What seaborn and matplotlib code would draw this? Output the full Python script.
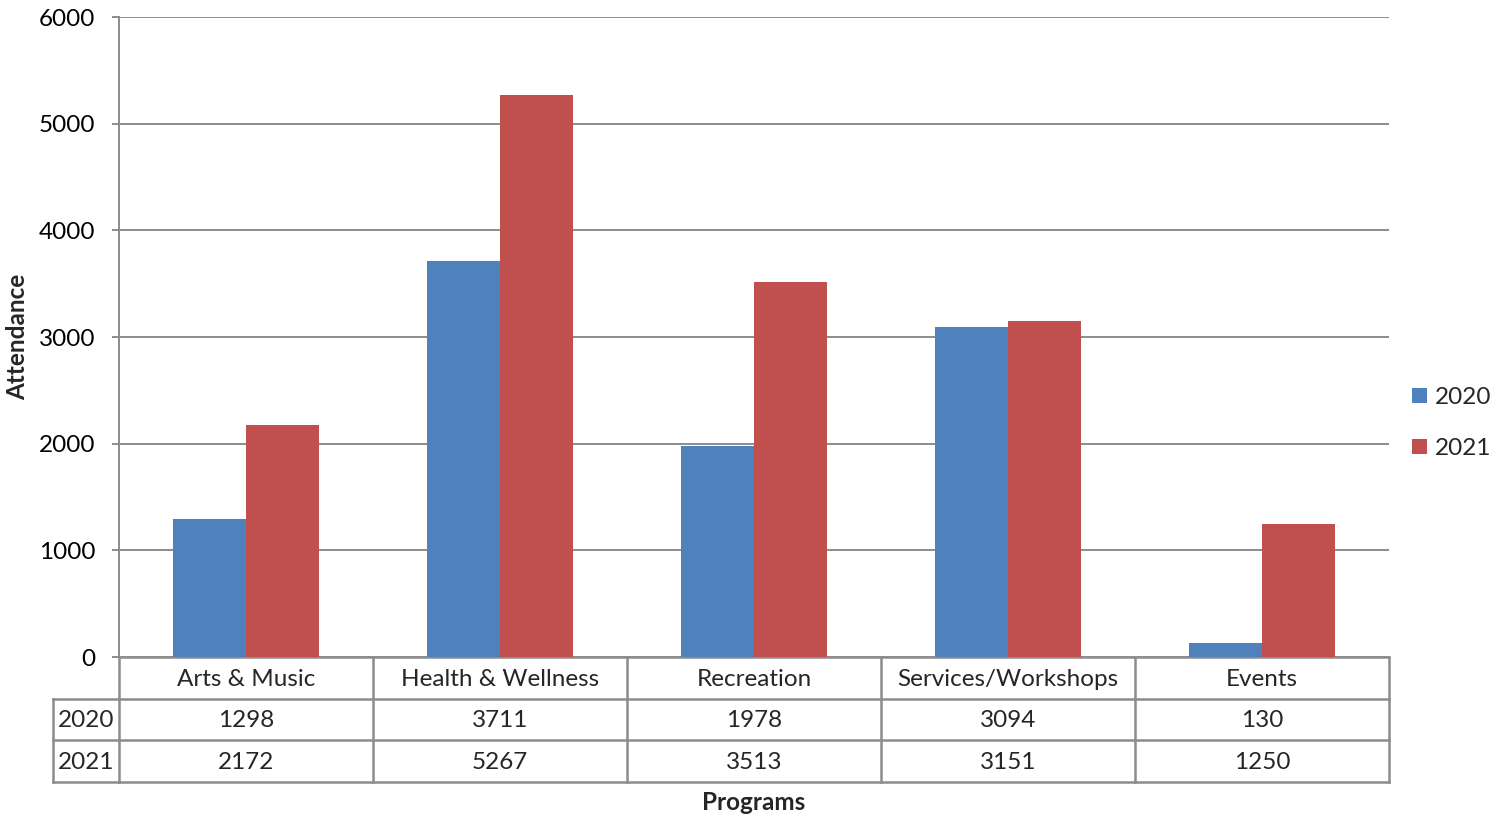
import matplotlib
matplotlib.use("Agg")
import matplotlib.pyplot as plt
from matplotlib.patches import Patch
from matplotlib.transforms import blended_transform_factory
import seaborn as sns
import pandas as pd

# Attendance by program and year
programs = ["Arts & Music", "Health & Wellness", "Recreation", "Services/Workshops", "Events"]
years = ["2020", "2021"]
att_2020 = [1298, 3711, 1978, 3094, 130]
att_2021 = [2172, 5267, 3513, 3151, 1250]
y_ticks = [0, 1000, 2000, 3000, 4000, 5000, 6000]

colors = ["#4F81BD", "#C0504D"]
grid_col = "#8C8C8C"
font = "Lato"
fs = 17.5

df = pd.DataFrame({
    "Program": programs * 2,
    "Year": [years[0]] * len(programs) + [years[1]] * len(programs),
    "Attendance": att_2020 + att_2021,
})

sns.set_theme(style="white")
plt.rcParams["font.family"] = [font, "DejaVu Sans"]

W, H = 1504, 819
fig = plt.figure(figsize=(W / 100, H / 100), dpi=100)

# Plot area in pixel terms: left 119, right 1389, top 17, bottom 657
ax = fig.add_axes([119 / W, (H - 657) / H, 1270 / W, 640 / H])
sns.barplot(data=df, x="Program", y="Attendance", hue="Year", order=programs,
            hue_order=years, palette=colors, width=0.572, gap=0, saturation=1,
            legend=False, ax=ax, edgecolor="none")
ax.set_xlim(-0.5, len(programs) - 0.5)
ax.set_ylim(y_ticks[0], y_ticks[-1])
ax.set_yticks(y_ticks)
ax.set_yticklabels([str(t) for t in y_ticks], fontsize=fs, color="black")
ax.set_xticks([])
ax.set_xlabel("")
ax.set_ylabel("")
ax.yaxis.grid(True, color=grid_col, linewidth=1.4)
ax.set_axisbelow(True)
ax.tick_params(axis="y", length=5, width=1.4, color=grid_col, pad=12, left=True)
for s in ["top", "right", "bottom"]:
    ax.spines[s].set_visible(False)
ax.spines["left"].set_color(grid_col)
ax.spines["left"].set_linewidth(1.4)

# Overlay in figure pixel coordinates for the data table and labels
ov = fig.add_axes([0, 0, 1, 1], zorder=-1)
ov.set_xlim(0, W)
ov.set_ylim(H, 0)
ov.axis("off")
ov.patch.set_alpha(0)
tr = blended_transform_factory(ax.transData, ov.transData)

row_top, row_h = 657, 41.5
row_edges = [row_top + i * row_h for i in range(4)]
label_left = 53
lw = 1.8
n = len(programs)
txt_dy = 1.5

# Column edges under each category
for i in range(n + 1):
    ov.plot([i - 0.5, i - 0.5], [row_edges[0], row_edges[3]], color=grid_col,
            lw=lw, transform=tr, clip_on=False, solid_capstyle="projecting")
ov.plot([-0.5, n - 0.5], [row_edges[0], row_edges[0]], color=grid_col, lw=lw,
        transform=tr, clip_on=False)
for k in (1, 2, 3):
    ov.plot([label_left, 119], [row_edges[k], row_edges[k]], color=grid_col, lw=lw,
            clip_on=False, solid_capstyle="projecting")
    ov.plot([-0.5, n - 0.5], [row_edges[k], row_edges[k]], color=grid_col, lw=lw,
            transform=tr, clip_on=False, solid_capstyle="projecting")
ov.plot([label_left, label_left], [row_edges[1], row_edges[3]], color=grid_col,
        lw=lw, clip_on=False, solid_capstyle="projecting")

for i, p in enumerate(programs):
    ov.text(i, row_edges[0] + row_h / 2 + txt_dy, p, transform=tr, ha="center",
            va="center", fontsize=fs)
for r, (yr, vals) in enumerate(zip(years, [att_2020, att_2021])):
    yc = row_edges[r + 1] + row_h / 2 + txt_dy
    ov.text((label_left + 119) / 2, yc, yr, ha="center", va="center", fontsize=fs)
    for i, v in enumerate(vals):
        ov.text(i, yc, str(v), transform=tr, ha="center", va="center", fontsize=fs)

# Axis titles
fig.text(18 / W, 1 - 337 / H, "Attendance", rotation=90, ha="center", va="center",
         fontsize=fs, fontweight="bold")
ov.text((n - 1) / 2, 803, "Programs", transform=tr, ha="center", va="center",
        fontsize=fs, fontweight="bold")

# Legend
handles = [Patch(facecolor=c, edgecolor="none") for c in colors]
fig.legend(handles, years, loc="center left", bbox_to_anchor=(1412 / W, 1 - 423 / H),
           frameon=False, fontsize=fs, handlelength=0.6, handleheight=0.6,
           handletextpad=0.35, labelspacing=1.22, borderpad=0, borderaxespad=0)

fig.savefig("out.png", dpi=100)
